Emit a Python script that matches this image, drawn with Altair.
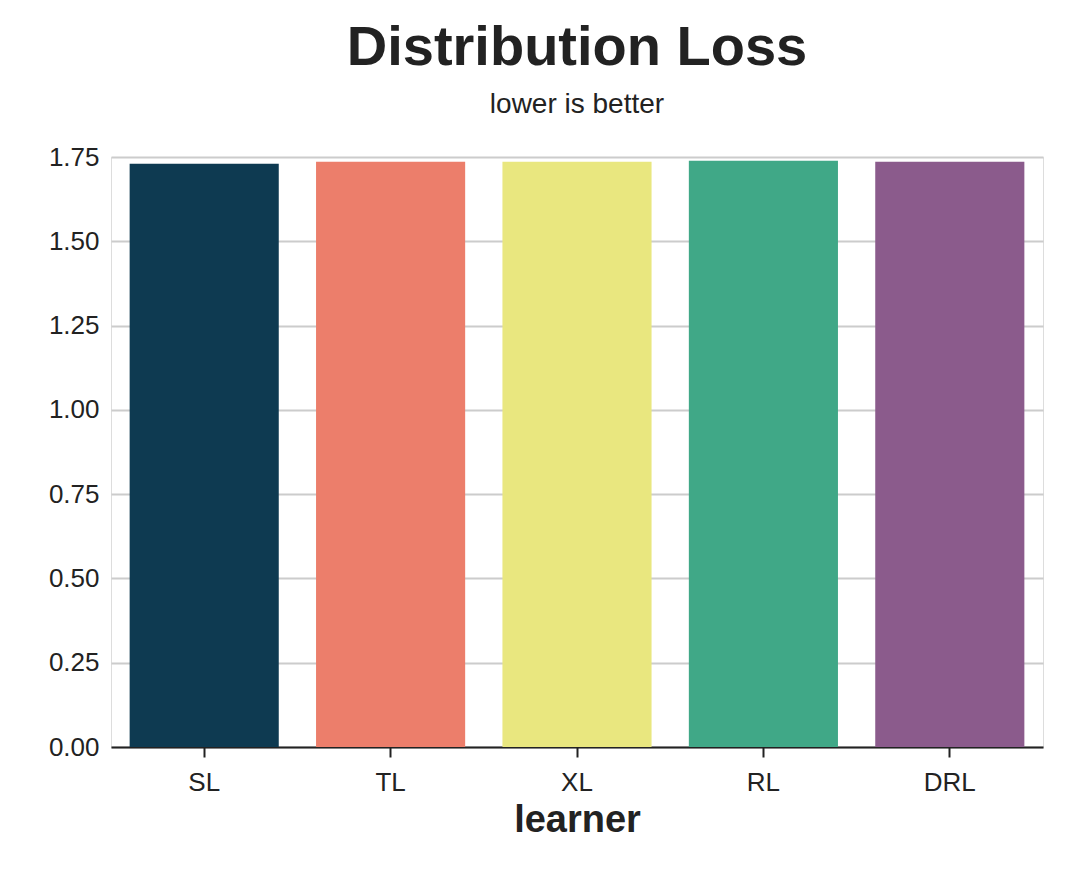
import pandas as pd
import altair as alt

learners = ["SL", "TL", "XL", "RL", "DRL"]
losses = [1.730, 1.736, 1.736, 1.739, 1.736]
colors = ["#0e3a51", "#ec7e6b", "#e9e77f", "#40a887", "#8b5b8c"]

df = pd.DataFrame({"learner": learners, "loss": losses})

bars = alt.Chart(df).mark_bar().encode(
    x=alt.X("learner:N", sort=learners, title="learner",
            scale=alt.Scale(paddingInner=0.2, paddingOuter=0.1),
            axis=alt.Axis(labelAngle=0, labelFontSize=26, titleFontSize=38, titleFontWeight="bold",
                          labelColor="#222", titleColor="#222",
                          domainColor="#222", domainWidth=2, tickColor="#222", tickSize=10, tickWidth=2,
                          labelPadding=12, titlePadding=6, grid=False)),
    y=alt.Y("loss:Q", title=None,
            scale=alt.Scale(domain=[0, 1.75], nice=False),
            axis=alt.Axis(values=[0, 0.25, 0.5, 0.75, 1.0, 1.25, 1.5, 1.75], format=".2f",
                          labelFontSize=26, labelColor="#222", domain=False, ticks=False, labelPadding=12,
                          gridColor="#cccccc", gridWidth=2)),
    color=alt.Color("learner:N", sort=learners, legend=None,
                    scale=alt.Scale(domain=learners, range=colors)),
).properties(
    width=932, height=590,
    padding={"left": 40, "top": 12, "right": 5, "bottom": 5},
    title=alt.TitleParams("Distribution Loss", subtitle="lower is better", fontSize=56,
                          fontWeight="bold", subtitleFontSize=28, color="#222",
                          subtitleColor="#222", subtitlePadding=14, offset=24),
).configure_view(strokeWidth=0).configure(font="Arial")

bars.save("out.html", embed_options={"renderer": "svg", "actions": False})
